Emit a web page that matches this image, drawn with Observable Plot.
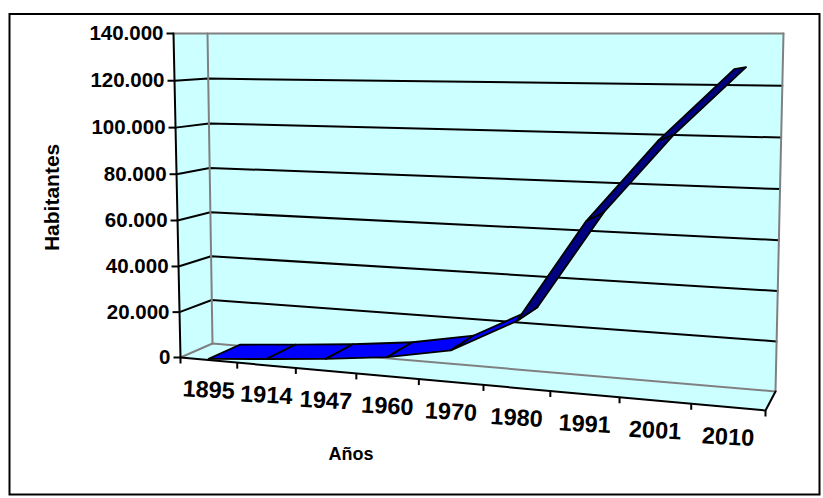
<!DOCTYPE html>
<html>
<head>
<meta charset="utf-8">
<script src="https://cdn.jsdelivr.net/npm/d3@7"></script>
<script src="https://cdn.jsdelivr.net/npm/@observablehq/plot@0.6"></script>
<style>
  html, body { margin: 0; padding: 0; background: #ffffff; }
  #chart svg { display: block; }
</style>
</head>
<body>
<div id="chart"></div>
<script>
// ---------------- data ----------------
const years = ["1895", "1914", "1947", "1960", "1970", "1980", "1991", "2001", "2010"];
const population = [500, 2700, 5000, 8000, 13000, 27000, 68000, 100000, 127000];
const yTicks = [0, 20000, 40000, 60000, 80000, 100000, 120000, 140000];
const yTickLabels = ["0", "20.000", "40.000", "60.000", "80.000", "100.000", "120.000", "140.000"];
const yMax = 140000;
const xTitle = "Años";
const yTitle = "Habitantes";

// ---------------- 3D box projection (layout) ----------------
const W = 823, H = 498;
const box = {
  front: { p00: [180, 357], p10: [765, 410], p11: [773, 33], p01: [173, 33] },
  back:  { p00: [212, 343], p10: [775, 391], p11: [783, 33], p01: [207, 33] }
};
function homography({p00, p10, p11, p01}) {
  const [x0, y0] = p00, [x1, y1] = p10, [x2, y2] = p11, [x3, y3] = p01;
  const dx1 = x1 - x2, dx2 = x3 - x2, dx3 = x0 - x1 + x2 - x3;
  const dy1 = y1 - y2, dy2 = y3 - y2, dy3 = y0 - y1 + y2 - y3;
  const den = dx1 * dy2 - dx2 * dy1;
  const g = (dx3 * dy2 - dx2 * dy3) / den, h = (dx1 * dy3 - dx3 * dy1) / den;
  const a = x1 - x0 + g * x1, b = x3 - x0 + h * x3, c = x0;
  const d = y1 - y0 + g * y1, e = y3 - y0 + h * y3, f = y0;
  return (u, v) => { const z = g * u + h * v + 1; return [(a * u + b * v + c) / z, (d * u + e * v + f) / z]; };
}
const frontMap = homography(box.front), backMap = homography(box.back);
// u: category position 0..1, w: value fraction 0..1, depth: 0 front .. 1 back
function proj(u, w, depth) {
  const p = frontMap(u, w), q = backMap(u, w);
  return { x: p[0] + (q[0] - p[0]) * depth, y: p[1] + (q[1] - p[1]) * depth };
}
const n = years.length;
const uCenter = i => (i + 0.5) / n;
const wOf = v => v / yMax;

// walls
const walls = [];
[["floor", [[0,0,0],[1,0,0],[1,0,1],[0,0,1]]],
 ["left",  [[0,0,0],[0,1,0],[0,1,1],[0,0,1]]],
 ["back",  [[0,0,1],[1,0,1],[1,1,1],[0,1,1]]]].forEach(([name, pts]) =>
  pts.forEach(([u, w, d]) => walls.push({wall: name, ...proj(u, w, d)})));

// gridlines (left wall + back wall)
const grid = [];
yTicks.filter(v => v > 0 && v < yMax).forEach(v => {
  const w = wOf(v);
  [[0, 0], [0, 1], [1, 1]].forEach(([u, d]) => grid.push({v, ...proj(u, w, d)}));
});

// box edges
const grayEdges = [];
const addEdge = (id, pts, arr) => pts.forEach(([u, w, d]) => arr.push({id, ...proj(u, w, d)}));
addEdge("bottom", [[0,0,0],[0,0,1],[1,0,1]], grayEdges);
addEdge("top", [[0,1,0],[0,1,1],[1,1,1]], grayEdges);
addEdge("backLeft", [[0,0,1],[0,1,1]], grayEdges);
addEdge("backRight", [[1,0,1],[1,1,1]], grayEdges);
const blackEdges = [];
addEdge("yaxis", [[0,0,0],[0,1,0]], blackEdges);
addEdge("xaxis", [[0,0,0],[1,0,0],[1,0,1]], blackEdges);

// ribbon quads
const ribbon = [];
for (let i = 0; i < n - 1; i++) {
  const a0 = proj(uCenter(i), wOf(population[i]), 0);
  const b0 = proj(uCenter(i + 1), wOf(population[i + 1]), 0);
  const b1 = proj(uCenter(i + 1), wOf(population[i + 1]), 1);
  const a1 = proj(uCenter(i), wOf(population[i]), 1);
  const steep = Math.abs(b0.y - a0.y) / Math.abs(b0.x - a0.x) > 0.8;
  const shade = steep ? "#000080" : "#0000FF";
  [a0, b0, b1, a1].forEach(p => ribbon.push({seg: i, shade, ...p}));
}

// ticks and labels
const yTickData = yTicks.map((v, i) => ({label: yTickLabels[i], ...proj(0, wOf(v), 0)}));
const xTickData = d3.range(n + 1).map(k => proj(k / n, 0, 0));
const xLabelData = years.map((yr, i) => ({label: yr, ...proj(uCenter(i), 0, 0)}));
const yAxisMid = proj(0, 0.5, 0);
const xTitlePos = proj(0.3, 0, 0);

const font = "'Liberation Sans', Arial, Helvetica, sans-serif";

const chart = Plot.plot({
  width: W, height: H,
  marginLeft: 9, marginTop: 13.5, marginRight: 4, marginBottom: 4,
  x: {domain: [0, W], range: [0, W], axis: null},
  y: {domain: [0, H], range: [0, H], axis: null},
  style: {fontFamily: font, background: "#ffffff", color: "#000"},
  marks: [
    Plot.frame({stroke: "#000", strokeWidth: 2}),
    Plot.line(walls, {x: "x", y: "y", z: "wall", fill: "#CCFFFF", stroke: "none", curve: "linear-closed"}),
    Plot.line(grid, {x: "x", y: "y", z: "v", stroke: "#000", strokeWidth: 2}),
    Plot.line(grayEdges, {x: "x", y: "y", z: "id", stroke: "#808080", strokeWidth: 2}),
    Plot.line(blackEdges, {x: "x", y: "y", z: "id", stroke: "#000", strokeWidth: 2}),
    Plot.line(ribbon, {x: "x", y: "y", z: "seg", fill: "shade", stroke: "#000", strokeWidth: 1.8, curve: "linear-closed", strokeLinejoin: "round"}),
    Plot.link(yTickData, {x1: d => d.x - 7, x2: "x", y1: "y", y2: "y", stroke: "#000", strokeWidth: 2}),
    Plot.link(xTickData, {x1: "x", x2: "x", y1: "y", y2: d => d.y + 6, stroke: "#000", strokeWidth: 2}),
    Plot.text(yTickData, {x: d => d.x - 10, y: "y", text: "label", textAnchor: "end", lineAnchor: "middle",
      fontSize: 20.5, fontWeight: "bold", fill: "#000"}),
    Plot.text(xLabelData, {x: "x", y: "y", text: "label", dy: 30, lineAnchor: "middle", rotate: 3,
      fontSize: 23.5, fontWeight: "bold", fill: "#000"}),
    Plot.text([yTitle], {x: () => yAxisMid.x - 125, y: () => yAxisMid.y, text: d => d, rotate: -90,
      lineAnchor: "middle", fontSize: 21, fontWeight: "bold", fill: "#000"}),
    Plot.text([xTitle], {x: () => xTitlePos.x, y: () => xTitlePos.y, dx: 13, dy: 82, text: d => d,
      lineAnchor: "middle", fontSize: 18, fontWeight: "bold", fill: "#000"})
  ]
});
document.getElementById("chart").appendChild(chart);
</script>
</body>
</html>
